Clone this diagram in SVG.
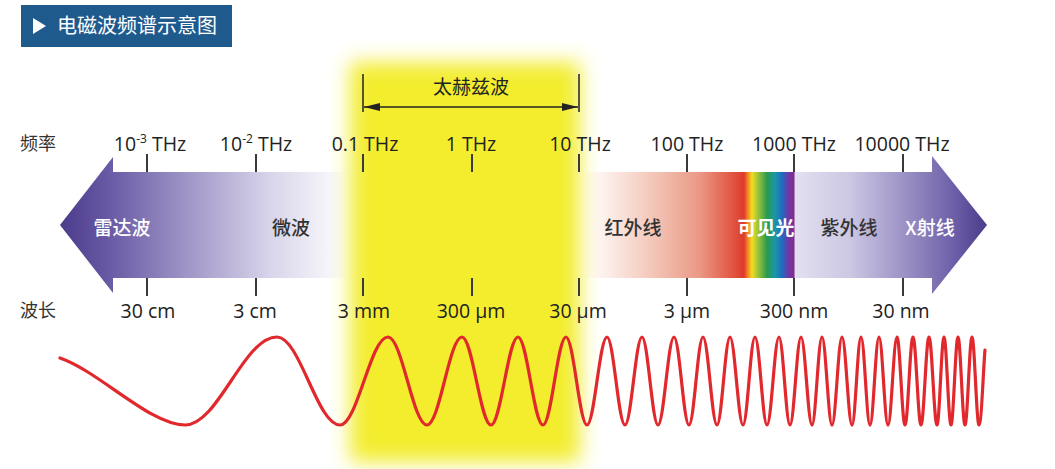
<svg xmlns="http://www.w3.org/2000/svg" width="1055" height="469" viewBox="0 0 1055 469">
<style>
.lat{font-family:"Open Sans","Liberation Sans",sans-serif;font-size:19.5px;fill:#222}
.cjk{font-family:"Noto Sans CJK SC","Noto Sans",sans-serif;font-size:19px;fill:#333}
.bl{font-weight:500}
.wl{fill:#fff}
.tick{stroke:#3a3a3a;stroke-width:2}
.brk{stroke:#222;stroke-width:1.5}
</style>
<defs>
<linearGradient id="band" gradientUnits="userSpaceOnUse" x1="0" y1="0" x2="1055" y2="0">
<stop offset="0.0569" stop-color="#4b3b8c"/>
<stop offset="0.1062" stop-color="#6b5ca6"/>
<stop offset="0.1896" stop-color="#a89fcc"/>
<stop offset="0.2559" stop-color="#d8d4ea"/>
<stop offset="0.3128" stop-color="#f6f5fa"/>
<stop offset="0.3318" stop-color="#ffffff"/>
<stop offset="0.5498" stop-color="#ffffff"/>
<stop offset="0.5687" stop-color="#fdf4f1"/>
<stop offset="0.6161" stop-color="#f4c9bb"/>
<stop offset="0.6635" stop-color="#ea9884"/>
<stop offset="0.6967" stop-color="#e0503d"/>
<stop offset="0.7052" stop-color="#de3a2e"/>
<stop offset="0.7081" stop-color="#ef7a22"/>
<stop offset="0.7128" stop-color="#f3dc22"/>
<stop offset="0.7185" stop-color="#9cc43a"/>
<stop offset="0.7270" stop-color="#2a9a4c"/>
<stop offset="0.7346" stop-color="#1a96a8"/>
<stop offset="0.7412" stop-color="#1f6cc0"/>
<stop offset="0.7469" stop-color="#6a3aa8"/>
<stop offset="0.7526" stop-color="#862a8e"/>
<stop offset="0.7536" stop-color="#e2e0f0"/>
<stop offset="0.8057" stop-color="#ccc7e3"/>
<stop offset="0.8531" stop-color="#a096c8"/>
<stop offset="0.9005" stop-color="#7163aa"/>
<stop offset="0.9355" stop-color="#4b3b8c"/>
</linearGradient>
<filter id="glow" x="-25%" y="-12%" width="150%" height="124%">
<feGaussianBlur stdDeviation="10"/>
</filter>
<marker id="ah" viewBox="0 0 16 8" refX="16" refY="4" markerWidth="16" markerHeight="8" markerUnits="userSpaceOnUse" orient="auto-start-reverse">
<path d="M0,0 L16,4 L0,8 Z" fill="#222"/>
</marker>
</defs>
<rect width="1055" height="469" fill="#fff"/>

<g id="header">
<rect x="21" y="5" width="211" height="42" fill="#1f5a8d"/>
<polygon points="33,18 46,26 33,34" fill="#fff"/>
<text x="57" y="33" class="cjk" style="font-size:20px;fill:#fff">电磁波频谱示意图</text>
</g>

<g id="spectrum-band">
<path d="M60,225 L113,157 L113,172 L932,172 L932,156 L987,225 L932,294 L932,278 L113,278 L113,293 Z" fill="url(#band)"/>
</g>

<g id="thz-highlight">
<rect x="350" y="62" width="230" height="400" fill="#f3ed2e" filter="url(#glow)"/>
</g>

<g id="axis-labels">
<text x="20" y="150" class="cjk" style="font-size:18px">频率</text>
<text x="20" y="317" class="cjk" style="font-size:18px">波长</text>
</g>

<g id="ticks">
<path class="tick" d="M147,154V172M256,154V172M363,154V172M472,154V172M579,154V172M687,154V172M794,154V172M903,154V172"/>
<path class="tick" d="M147,278V296M256,278V296M363,278V296M472,278V296M579,278V296M687,278V296M794,278V296M903,278V296"/>
</g>

<g id="frequency-labels">
<text x="150" y="151" class="lat" text-anchor="middle">10<tspan font-size="12" dy="-8">-3</tspan><tspan dy="8"> THz</tspan></text>
<text x="256" y="151" class="lat" text-anchor="middle">10<tspan font-size="12" dy="-8">-2</tspan><tspan dy="8"> THz</tspan></text>
<text x="365" y="151" class="lat" text-anchor="middle">0.1 THz</text>
<text x="471" y="151" class="lat" text-anchor="middle">1 THz</text>
<text x="580" y="151" class="lat" text-anchor="middle">10 THz</text>
<text x="687" y="151" class="lat" text-anchor="middle">100 THz</text>
<text x="794" y="151" class="lat" text-anchor="middle">1000 THz</text>
<text x="902" y="151" class="lat" text-anchor="middle">10000 THz</text>
</g>

<g id="wavelength-labels">
<text x="148" y="318" class="lat" text-anchor="middle">30 cm</text>
<text x="255" y="318" class="lat" text-anchor="middle">3 cm</text>
<text x="364" y="318" class="lat" text-anchor="middle">3 mm</text>
<text x="471" y="318" class="lat" text-anchor="middle">300 µm</text>
<text x="578" y="318" class="lat" text-anchor="middle">30 µm</text>
<text x="687" y="318" class="lat" text-anchor="middle">3 µm</text>
<text x="794" y="318" class="lat" text-anchor="middle">300 nm</text>
<text x="901" y="318" class="lat" text-anchor="middle">30 nm</text>
</g>

<g id="band-labels">
<text x="122" y="235" class="cjk bl wl" text-anchor="middle">雷达波</text>
<text x="291" y="235" class="cjk bl" text-anchor="middle">微波</text>
<text x="633" y="235" class="cjk bl" text-anchor="middle">红外线</text>
<text x="766" y="235" class="cjk wl" text-anchor="middle" font-weight="bold">可见光</text>
<text x="849" y="235" class="cjk bl" text-anchor="middle">紫外线</text>
<text x="930" y="235" class="cjk bl wl" text-anchor="middle">X射线</text>
</g>

<g id="terahertz-range">
<text x="471" y="94" class="cjk" text-anchor="middle" style="fill:#222">太赫兹波</text>
</g>

<g id="connectors">
<path class="brk" d="M363,74V112M579,74V112"/>
<path class="brk" d="M364,107H578" fill="none" marker-start="url(#ah)" marker-end="url(#ah)"/>
</g>

<g id="wave">
<path fill="none" stroke="#e0282d" stroke-width="3.2" stroke-linecap="round" d="M60,358 C100,372 150,425 185,425 C218.5,425 243.5,337 277,337 C299.9,337 317.1,425 340,425 C357.5,425 370.5,337 388,337 C402.2,337 412.8,425 427,425 C439.7,425 449.3,337 462,337 C472.6,337 480.4,425 491,425 C500.8,425 508.2,337 518,337 C527.1,337 533.9,425 543,425 C551.4,425 557.6,337 566,337 C573.6,337 579.4,425 587,425 C594.3,425 599.7,337 607,337 C613.6,337 618.4,425 625,425 C631.2,425 635.8,337 642,337 C647.8,337 652.2,425 658,425 C663.8,425 668.2,337 674,337 C679.5,337 683.5,425 689,425 C694.1,425 697.9,337 703,337 C708.1,337 711.9,425 717,425 C721.7,425 725.3,337 730,337 C734.7,337 738.3,425 743,425 C747.4,425 750.6,337 755,337 C759.4,337 762.6,425 767,425 C771.4,425 774.6,337 779,337 C783,337 786,425 790,425 C794,425 797,337 801,337 C805,337 808,425 812,425 C815.6,425 818.4,337 822,337 C825.6,337 828.4,425 832,425 C835.6,425 838.4,337 842,337 C845.6,337 848.4,425 852,425 C855.3,425 857.7,337 861,337 C864.3,337 866.7,425 870,425 C873.3,425 875.7,337 879,337 C882.3,337 884.7,425 888,425 C891.3,425 893.7,337 897,337 C899.9,337 902.1,425 905,425 C907.9,425 910.1,337 913,337 C915.9,337 918.1,425 921,425 C923.9,425 926.1,337 929,337 C931.9,337 934.1,425 937,425 C939.5,425 941.5,337 944,337 C946.5,337 948.5,425 951,425 C953.5,425 955.5,337 958,337 C960.5,337 962.5,425 965,425 C967.5,425 969.5,337 972,337 C974.5,337 976.5,425 979,425 C981.5,425 983.5,365 985,350"/>
</g>
</svg>
